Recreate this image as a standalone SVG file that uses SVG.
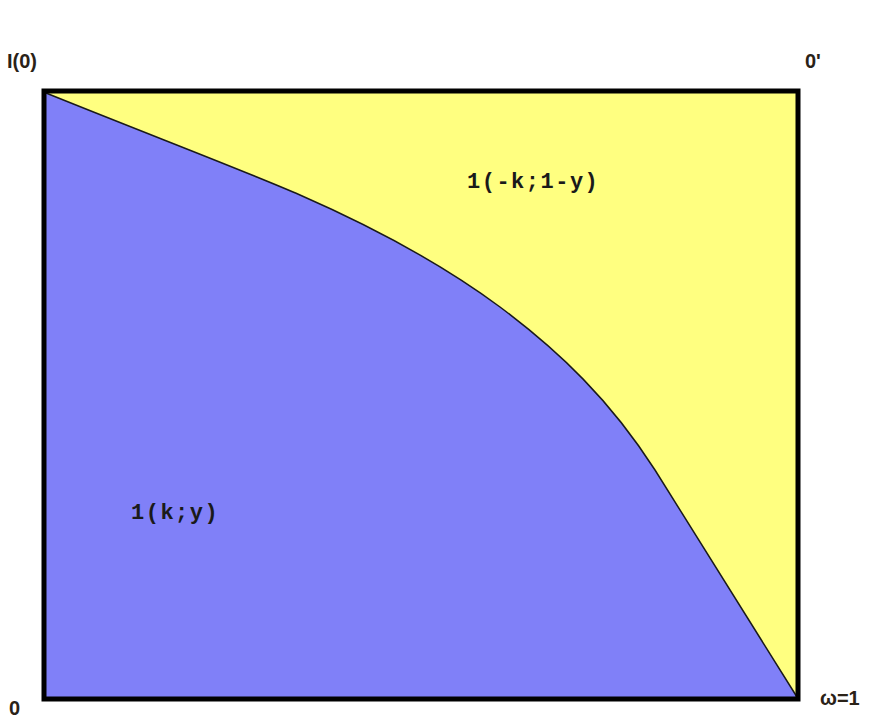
<svg xmlns="http://www.w3.org/2000/svg" width="869" height="718" viewBox="0 0 869 718">
<style>
.axis{font-family:"Liberation Sans",Arial,sans-serif;font-weight:bold;font-size:20px;fill:#2a2218}
.reg{font-family:"Liberation Mono","Courier New",monospace;font-weight:bold;font-size:22px;letter-spacing:1.5px;fill:#1a1a1a}
</style>
<rect width="869" height="718" fill="#ffffff"/>
<g id="yellow-region">
<rect x="44" y="91" width="754" height="608" fill="#ffff80"/>
</g>
<g id="blue-region">
<path d="M46,93 C150,135 250,173 300,195 C380,230 450,270 500,307 C560,352 610,400 655,470 L797,697 L46,697 Z" fill="#8080f8"/>
</g>
<g id="connectors">
<path d="M46,93 C150,135 250,173 300,195 C380,230 450,270 500,307 C560,352 610,400 655,470 L797,697" fill="none" stroke="#1a1a1a" stroke-width="1.5"/>
</g>
<g id="frame">
<rect x="44" y="91" width="754" height="608" fill="none" stroke="#000" stroke-width="5"/>
</g>
<g id="labels">
<text class="axis" x="7" y="68">I(0)</text>
<text class="axis" x="805" y="68">0'</text>
<text class="axis" x="9" y="715">0</text>
<text class="axis" x="820" y="705">ω=1</text>
<text class="reg" x="467" y="188">1(-k;1-y)</text>
<text class="reg" x="131" y="519">1(k;y)</text>
</g>
</svg>
